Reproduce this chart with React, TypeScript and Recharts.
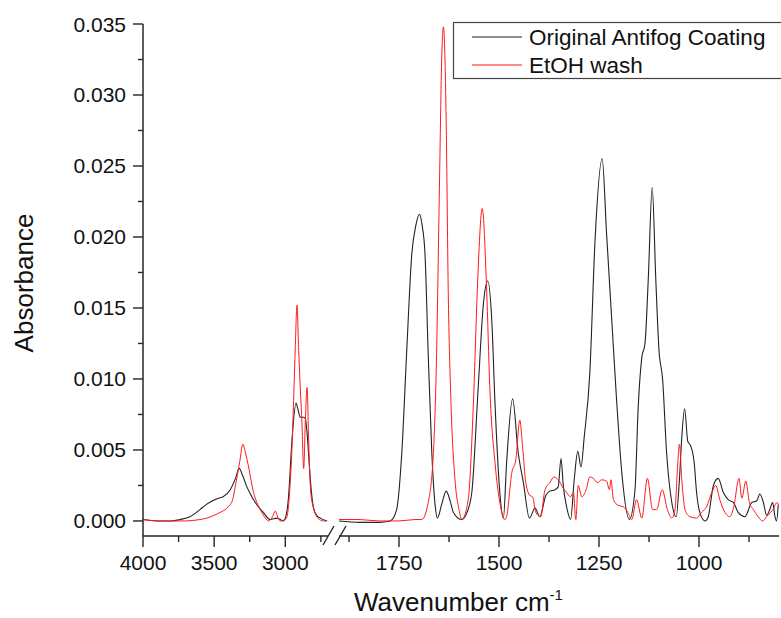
import { LineChart, Line, XAxis, YAxis } from 'recharts';

// wavenumber (cm-1) / absorbance pairs
const origHighWn = [4000, 3900, 3800, 3740, 3670, 3600, 3563, 3514, 3470, 3437, 3387, 3350, 3324, 3300, 3270, 3240, 3211, 3155, 3106, 3058, 3014, 2990, 2979, 2953, 2925, 2910, 2894, 2870, 2859, 2847, 2835, 2824, 2803, 2780, 2754, 2706];
const origHighAbs = [0.0001, 0.0000, 0.0000, 0.0001, 0.0003, 0.0008, 0.0011, 0.0014, 0.0016, 0.0017, 0.0022, 0.0030, 0.0037, 0.0032, 0.0024, 0.0018, 0.0013, 0.0006, 0.0001, 0.0002, 0.0000, 0.0006, 0.0015, 0.0057, 0.0083, 0.0078, 0.0073, 0.0073, 0.0072, 0.0062, 0.0045, 0.0029, 0.0010, 0.0004, 0.0002, 0.0000];

const washHighWn = [4000, 3900, 3800, 3700, 3600, 3551, 3500, 3458, 3401, 3370, 3352, 3320, 3298, 3280, 3258, 3223, 3200, 3176, 3140, 3118, 3090, 3071, 3050, 3035, 3000, 2988, 2970, 2953, 2940, 2930, 2918, 2906, 2894, 2883, 2871, 2859, 2847, 2836, 2824, 2805, 2789, 2760, 2732, 2710];
const washHighAbs = [0.0001, 0.0000, 0.0000, 0.0000, 0.0001, 0.0002, 0.0004, 0.0006, 0.0010, 0.0015, 0.0024, 0.0042, 0.0054, 0.0048, 0.0038, 0.0020, 0.0013, 0.0008, 0.0002, 0.0000, 0.0003, 0.0007, 0.0002, 0.0000, 0.0001, 0.0003, 0.0020, 0.0052, 0.0090, 0.0122, 0.0152, 0.0120, 0.0092, 0.0069, 0.0037, 0.0071, 0.0094, 0.0057, 0.0024, 0.0010, 0.0005, 0.0001, 0.0000, 0.0000];

const origLowWn = [1900, 1850, 1800, 1772, 1756, 1743, 1731, 1718, 1708, 1699, 1692, 1685, 1677, 1668, 1660, 1654, 1643, 1632, 1622, 1614, 1593, 1580, 1568, 1552, 1539, 1528, 1518, 1510, 1499, 1489, 1481, 1466, 1452, 1439, 1424, 1410, 1398, 1383, 1373, 1360, 1352, 1345, 1339, 1331, 1321, 1312, 1303, 1295, 1287, 1273, 1260, 1242, 1231, 1218, 1206, 1193, 1174, 1160, 1152, 1143, 1135, 1127, 1117, 1108, 1100, 1091, 1081, 1068, 1057, 1049, 1043, 1036, 1028, 1021, 1012, 1006, 998, 985, 977, 964, 952, 939, 927, 914, 902, 885, 868, 856, 848, 839, 831, 823, 816, 810, 806, 802];
const origLowAbs = [0.0000, -0.0001, -0.0001, 0.0000, 0.0008, 0.0048, 0.0118, 0.0188, 0.0208, 0.0216, 0.0208, 0.0188, 0.0118, 0.0048, 0.0012, 0.0002, 0.0012, 0.0021, 0.0014, 0.0006, 0.0001, 0.0006, 0.0020, 0.0094, 0.0153, 0.0169, 0.0141, 0.0083, 0.0024, 0.0002, 0.0041, 0.0086, 0.0048, 0.0027, 0.0002, 0.0009, 0.0003, 0.0018, 0.0021, 0.0022, 0.0024, 0.0044, 0.0024, 0.0010, 0.0001, 0.0029, 0.0049, 0.0038, 0.0059, 0.0104, 0.0197, 0.0255, 0.0202, 0.0141, 0.0085, 0.0034, 0.0001, 0.0022, 0.0080, 0.0115, 0.0125, 0.0169, 0.0235, 0.0170, 0.0120, 0.0100, 0.0048, 0.0013, 0.0003, 0.0029, 0.0059, 0.0079, 0.0056, 0.0053, 0.0041, 0.0020, 0.0006, 0.0000, 0.0003, 0.0025, 0.0030, 0.0020, 0.0015, 0.0013, 0.0006, 0.0003, 0.0013, 0.0014, 0.0019, 0.0013, 0.0004, 0.0008, 0.0013, 0.0003, 0.0000, 0.0011];

const washLowWn = [1900, 1850, 1800, 1750, 1710, 1693, 1677, 1664, 1656, 1649, 1643, 1639, 1632, 1627, 1620, 1610, 1600, 1593, 1577, 1564, 1554, 1542, 1531, 1523, 1510, 1498, 1485, 1481, 1468, 1458, 1448, 1441, 1433, 1423, 1416, 1408, 1396, 1385, 1373, 1362, 1352, 1339, 1331, 1321, 1314, 1308, 1302, 1293, 1282, 1273, 1264, 1254, 1243, 1231, 1224, 1220, 1214, 1202, 1189, 1178, 1168, 1156, 1143, 1129, 1116, 1106, 1092, 1079, 1068, 1060, 1054, 1049, 1043, 1035, 1023, 1006, 994, 981, 968, 958, 948, 935, 923, 913, 900, 893, 883, 874, 864, 852, 841, 831, 821, 815, 805, 800];
const washLowAbs = [0.0001, 0.0001, 0.0000, 0.0000, 0.0001, 0.0001, 0.0013, 0.0048, 0.0118, 0.0234, 0.0328, 0.0348, 0.0281, 0.0164, 0.0083, 0.0029, 0.0008, 0.0001, 0.0015, 0.0083, 0.0164, 0.0220, 0.0164, 0.0094, 0.0041, 0.0013, 0.0001, 0.0003, 0.0034, 0.0043, 0.0071, 0.0052, 0.0027, 0.0018, 0.0017, 0.0006, 0.0003, 0.0022, 0.0027, 0.0031, 0.0029, 0.0023, 0.0020, 0.0017, 0.0020, 0.0001, 0.0025, 0.0017, 0.0022, 0.0031, 0.0030, 0.0027, 0.0029, 0.0028, 0.0022, 0.0029, 0.0015, 0.0011, 0.0010, 0.0006, 0.0001, 0.0015, 0.0002, 0.0030, 0.0008, 0.0008, 0.0022, 0.0008, 0.0002, 0.0008, 0.0036, 0.0054, 0.0029, 0.0008, 0.0003, 0.0002, 0.0006, 0.0010, 0.0020, 0.0025, 0.0015, 0.0006, 0.0003, 0.0010, 0.0030, 0.0016, 0.0028, 0.0013, 0.0008, 0.0003, 0.0000, 0.0003, 0.0006, 0.0008, 0.0013, 0.0010];

const highTicks = [4000, 3750, 3500, 3250, 3000, 2750];
const lowTicks = [1875, 1750, 1625, 1500, 1375, 1250, 1125, 1000, 875];
const labelledX = [4000, 3500, 3000, 1750, 1500, 1250, 1000];
const yTicks = [0, 0.0025, 0.005, 0.0075, 0.01, 0.0125, 0.015, 0.0175, 0.02, 0.0225, 0.025, 0.0275, 0.03, 0.0325, 0.035];
const seriesNames = ['Original Antifog Coating', 'EtOH wash'];

const FONT = '"Liberation Sans", Arial, sans-serif';
const AXIS = '#262626';
const BLACK = '#222';
const RED = '#ff1a1a';
const Y_DOMAIN = [-0.00106, 0.035];

const pairs = (wn: number[], abs: number[]) => wn.map((w, i) => ({ wn: w, abs: abs[i] }));
const origHigh = pairs(origHighWn, origHighAbs);
const washHigh = pairs(washHighWn, washHighAbs);
const origLow = pairs(origLowWn, origLowAbs);
const washLow = pairs(washLowWn, washLowAbs);

const XTick = (props: any) => {
  const { x, y, payload } = props;
  const major = labelledX.includes(payload.value);
  return (
    <g>
      <line x1={x} y1={y} x2={x} y2={y + (major ? 11 : 6)} stroke={AXIS} strokeWidth={1.4} />
      {major && (
        <text x={x} y={y + 34} textAnchor="middle" fontSize={21} fontFamily={FONT} fill="#111">
          {payload.value}
        </text>
      )}
    </g>
  );
};

const YTick = (props: any) => {
  const { x, y, payload } = props;
  const v = payload.value;
  const major = Math.abs(v * 200 - Math.round(v * 200)) < 1e-6;
  return (
    <g>
      <line x1={x} y1={y} x2={x - (major ? 10 : 5)} y2={y} stroke={AXIS} strokeWidth={1.4} />
      {major && (
        <text x={x - 17} y={y + 7.5} textAnchor="end" fontSize={21} fontFamily={FONT} fill="#111">
          {v.toFixed(3)}
        </text>
      )}
    </g>
  );
};

export default function App() {
  return (
    <div style={{ position: 'absolute', left: 0, top: 0, width: 781, height: 618, overflow: 'hidden', background: '#fff' }}>
      <div style={{ position: 'absolute', left: 0, top: 0 }}>
        <LineChart width={328} height={618} margin={{ top: 24, right: 0, bottom: 0, left: 0 }}>
          <XAxis
            type="number"
            dataKey="wn"
            domain={[2700, 4000]}
            reversed
            allowDataOverflow
            ticks={highTicks}
            interval={0}
            height={82}
            tickSize={0}
            tickMargin={0}
            tickLine={false}
            tick={<XTick />}
            axisLine={{ stroke: AXIS, strokeWidth: 1.5 }}
          />
          <YAxis
            type="number"
            domain={Y_DOMAIN}
            allowDataOverflow
            ticks={yTicks}
            interval={0}
            width={143}
            tickSize={0}
            tickMargin={0}
            tickLine={false}
            tick={<YTick />}
            axisLine={{ stroke: AXIS, strokeWidth: 1.5 }}
          />
          <Line data={origHigh} dataKey="abs" type="monotone" stroke={BLACK} strokeWidth={1.1} dot={false} isAnimationActive={false} />
          <Line data={washHigh} dataKey="abs" type="monotone" stroke={RED} strokeWidth={1} dot={false} isAnimationActive={false} />
        </LineChart>
      </div>
      <div style={{ position: 'absolute', left: 339, top: 0 }}>
        <LineChart width={442} height={618} margin={{ top: 24, right: 2, bottom: 0, left: 0 }}>
          <XAxis
            type="number"
            dataKey="wn"
            domain={[800, 1900]}
            reversed
            allowDataOverflow
            ticks={lowTicks}
            interval={0}
            height={82}
            tickSize={0}
            tickMargin={0}
            tickLine={false}
            tick={<XTick />}
            axisLine={{ stroke: AXIS, strokeWidth: 1.5 }}
          />
          <YAxis type="number" domain={Y_DOMAIN} allowDataOverflow hide />
          <Line data={origLow} dataKey="abs" type="monotone" stroke={BLACK} strokeWidth={1.1} dot={false} isAnimationActive={false} />
          <Line data={washLow} dataKey="abs" type="monotone" stroke={RED} strokeWidth={1} dot={false} isAnimationActive={false} />
        </LineChart>
      </div>
      {/* axis break, titles and legend */}
      <svg width={781} height={618} style={{ position: 'absolute', left: 0, top: 0, pointerEvents: 'none' }}>
        <line x1={323} y1={545} x2={334} y2={526} stroke={AXIS} strokeWidth={1.4} />
        <line x1={335} y1={545} x2={346} y2={526} stroke={AXIS} strokeWidth={1.4} />
        <text x={33} y={283} transform="rotate(-90 33 283)" textAnchor="middle" fontSize={26} fontFamily={FONT} fill="#111">
          Absorbance
        </text>
        <text x={354} y={611} fontSize={26} fontFamily={FONT} fill="#111">
          Wavenumber cm
          <tspan fontSize={15} dy={-11}>-1</tspan>
        </text>
        <rect x={453.5} y={22.5} width={340} height={56} fill="#fff" stroke="#444" strokeWidth={1.2} />
        <line x1={472} y1={37} x2={522} y2={37} stroke={BLACK} strokeWidth={1.2} />
        <line x1={472} y1={65} x2={522} y2={65} stroke={RED} strokeWidth={1.1} />
        <text x={529} y={45} fontSize={22.5} fontFamily={FONT} fill="#111">{seriesNames[0]}</text>
        <text x={529} y={73} fontSize={22.5} fontFamily={FONT} fill="#111">{seriesNames[1]}</text>
      </svg>
    </div>
  );
}
